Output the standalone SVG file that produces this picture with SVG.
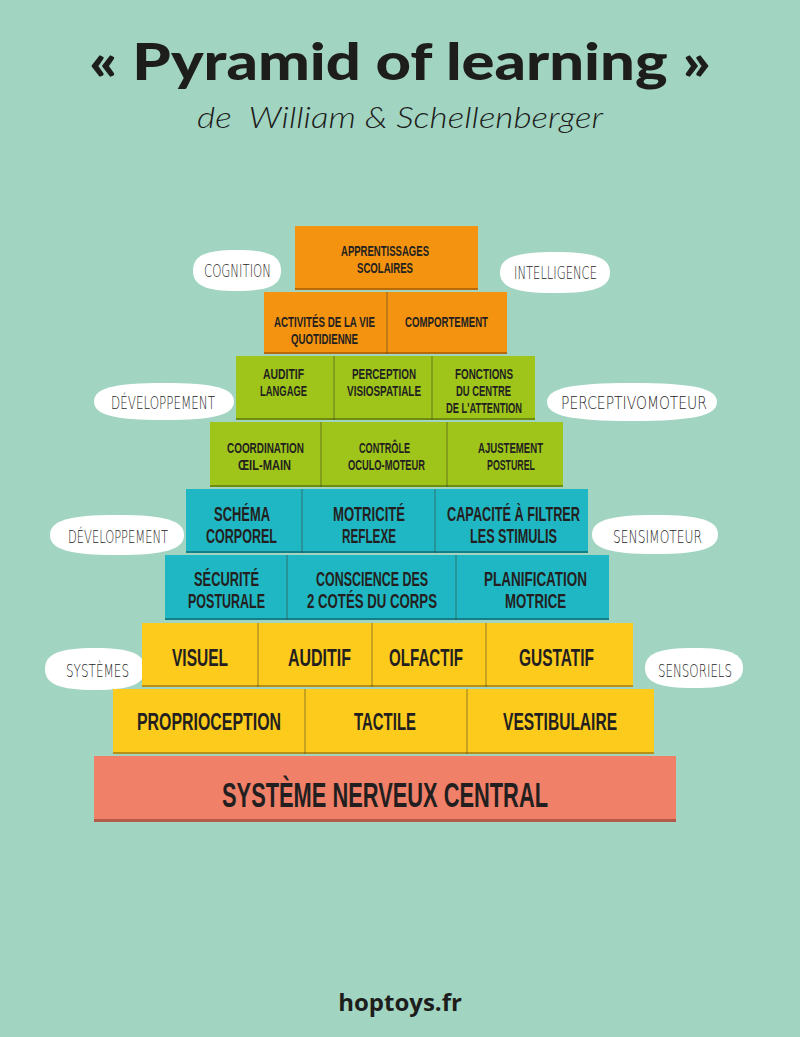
<svg xmlns="http://www.w3.org/2000/svg" width="800" height="1037" viewBox="0 0 800 1037">
<style>
.bg{fill:#a2d4c2}
.or{fill:#f39310}
.gr{fill:#9fc41a}
.te{fill:#1fb7c3}
.ye{fill:#fdcb1b}
.sa{fill:#f08068}
.sh-or{fill:#b86a08}
.sh-gr{fill:#6f8c10}
.sh-te{fill:#157f88}
.sh-ye{fill:#b89013}
.sh-sa{fill:#b45a48}
.dv{stroke:#3a3a2a;stroke-width:1;stroke-opacity:0.55}
.cloud{fill:#ffffff}
.b{font-family:"Liberation Sans",Arial,sans-serif;font-weight:bold;fill:#231f20;text-anchor:middle}
.c{font-family:"DejaVu Sans","Liberation Sans",sans-serif;font-weight:200;fill:#1f1f1f;font-size:18px}
.s1{font-size:14px}
.s2{font-size:19.5px}
.s3{font-size:23.5px}
.s4{font-size:36px}
</style>
<rect class="bg" x="0" y="0" width="800" height="1037"/>
<g id="title">
<text x="400" y="80" textLength="622" lengthAdjust="spacingAndGlyphs" style="font-family:Lato,'Open Sans',sans-serif;font-weight:900;font-size:52px;fill:#1d1d1b" text-anchor="middle">« Pyramid of learning »</text>
<text x="400" y="128" textLength="406" lengthAdjust="spacingAndGlyphs" style="font-family:Lato,'Open Sans',sans-serif;font-style:italic;font-weight:300;font-size:30px;fill:#1d1d1b;white-space:pre" text-anchor="middle">de  William &amp; Schellenberger</text>
</g>
<g id="connectors"></g>
<g id="cloud-cognition">
<path class="cloud" d="M193,270.5 C193,255.7 205.3,250 237,250 C268.7,250 281,255.7 281,270.5 C281,285.3 268.7,291 237,291 C205.3,291 193,285.3 193,270.5Z"/>
<text class="c" transform="translate(204,277) scale(0.6,1)" textLength="111.7" lengthAdjust="spacingAndGlyphs">COGNITION</text>
</g>
<g id="cloud-intelligence">
<path class="cloud" d="M500,272.5 C500,257.7 515.4,252 555,252 C594.6,252 610,257.7 610,272.5 C610,287.3 594.6,293 555,293 C515.4,293 500,287.3 500,272.5Z"/>
<text class="c" transform="translate(514,279) scale(0.6,1)" textLength="138.3" lengthAdjust="spacingAndGlyphs">INTELLIGENCE</text>
</g>
<g id="cloud-developpement1">
<path class="cloud" d="M94,401.5 C94,388.2 113.6,383 164,383 C214.4,383 234,388.2 234,401.5 C234,414.8 214.4,420 164,420 C113.6,420 94,414.8 94,401.5Z"/>
<text class="c" transform="translate(111,409) scale(0.6,1)" textLength="173.3" lengthAdjust="spacingAndGlyphs">DÉVELOPPEMENT</text>
</g>
<g id="cloud-perceptivomoteur">
<path class="cloud" d="M547,402 C547,388.3 570.8,383 632,383 C693.2,383 717,388.3 717,402 C717,415.7 693.2,421 632,421 C570.8,421 547,415.7 547,402Z"/>
<text class="c" transform="translate(561,409) scale(0.6,1)" textLength="243.3" lengthAdjust="spacingAndGlyphs">PERCEPTIVOMOTEUR</text>
</g>
<g id="cloud-developpement2">
<path class="cloud" d="M50,535 C50,520.6 68.8,515 117,515 C165.2,515 184,520.6 184,535 C184,549.4 165.2,555 117,555 C68.8,555 50,549.4 50,535Z"/>
<text class="c" transform="translate(68,543) scale(0.6,1)" textLength="166.7" lengthAdjust="spacingAndGlyphs">DÉVELOPPEMENT</text>
</g>
<g id="cloud-sensimoteur">
<path class="cloud" d="M592,534.5 C592,520.5 609.6,515 655,515 C700.4,515 718,520.5 718,534.5 C718,548.5 700.4,554 655,554 C609.6,554 592,548.5 592,534.5Z"/>
<text class="c" transform="translate(613,543) scale(0.6,1)" textLength="148.3" lengthAdjust="spacingAndGlyphs">SENSIMOTEUR</text>
</g>
<g id="cloud-systemes">
<path class="cloud" d="M45,669 C45,653.9 59,648 95,648 C131,648 145,653.9 145,669 C145,684.1 131,690 95,690 C59,690 45,684.1 45,669Z"/>
<text class="c" transform="translate(66,677) scale(0.6,1)" textLength="105" lengthAdjust="spacingAndGlyphs">SYSTÈMES</text>
</g>
<g id="cloud-sensoriels">
<path class="cloud" d="M645,668 C645,653.6 658.7,648 694,648 C729.3,648 743,653.6 743,668 C743,682.4 729.3,688 694,688 C658.7,688 645,682.4 645,668Z"/>
<text class="c" transform="translate(658,677) scale(0.6,1)" textLength="123.3" lengthAdjust="spacingAndGlyphs">SENSORIELS</text>
</g>
<g id="row1">
<rect class="or" x="295" y="226" width="183" height="64"/>
<rect class="sh-or" x="295" y="288" width="183" height="2"/>
<text class="b s1" transform="translate(385,256) scale(0.6,1)" textLength="146.7" lengthAdjust="spacingAndGlyphs">APPRENTISSAGES</text>
<text class="b s1" transform="translate(385,273) scale(0.6,1)" textLength="93.3" lengthAdjust="spacingAndGlyphs">SCOLAIRES</text>
</g>
<g id="row2">
<rect class="or" x="264" y="292" width="243" height="62"/>
<rect class="sh-or" x="264" y="352" width="243" height="2"/>
<line class="dv" x1="387" y1="292" x2="387" y2="354"/>
<text class="b s1" transform="translate(324.5,327) scale(0.6,1)" textLength="168.3" lengthAdjust="spacingAndGlyphs">ACTIVITÉS DE LA VIE</text>
<text class="b s1" transform="translate(324.5,344) scale(0.6,1)" textLength="111.7" lengthAdjust="spacingAndGlyphs">QUOTIDIENNE</text>
<text class="b s1" transform="translate(446.5,327) scale(0.6,1)" textLength="138.3" lengthAdjust="spacingAndGlyphs">COMPORTEMENT</text>
</g>
<g id="row3">
<rect class="gr" x="236" y="356" width="299" height="64"/>
<rect class="sh-gr" x="236" y="418" width="299" height="2"/>
<line class="dv" x1="334" y1="356" x2="334" y2="420"/>
<line class="dv" x1="432" y1="356" x2="432" y2="420"/>
<text class="b s1" transform="translate(283.5,379) scale(0.6,1)" textLength="68.3" lengthAdjust="spacingAndGlyphs">AUDITIF</text>
<text class="b s1" transform="translate(283.5,396) scale(0.6,1)" textLength="78.3" lengthAdjust="spacingAndGlyphs">LANGAGE</text>
<text class="b s1" transform="translate(384,379) scale(0.6,1)" textLength="106.7" lengthAdjust="spacingAndGlyphs">PERCEPTION</text>
<text class="b s1" transform="translate(384,396) scale(0.6,1)" textLength="123.3" lengthAdjust="spacingAndGlyphs">VISIOSPATIALE</text>
<text class="b s1" transform="translate(484,379) scale(0.6,1)" textLength="96.7" lengthAdjust="spacingAndGlyphs">FONCTIONS</text>
<text class="b s1" transform="translate(483.5,396) scale(0.6,1)" textLength="91.7" lengthAdjust="spacingAndGlyphs">DU CENTRE</text>
<text class="b s1" transform="translate(484,413) scale(0.6,1)" textLength="126.7" lengthAdjust="spacingAndGlyphs">DE L'ATTENTION</text>
</g>
<g id="row4">
<rect class="gr" x="210" y="422" width="353" height="65"/>
<rect class="sh-gr" x="210" y="485" width="353" height="2"/>
<line class="dv" x1="321" y1="422" x2="321" y2="487"/>
<line class="dv" x1="447" y1="422" x2="447" y2="487"/>
<text class="b s1" transform="translate(265.5,453) scale(0.6,1)" textLength="128.3" lengthAdjust="spacingAndGlyphs">COORDINATION</text>
<text class="b s1" transform="translate(264.5,470) scale(0.6,1)" textLength="88.3" lengthAdjust="spacingAndGlyphs">ŒIL-MAIN</text>
<text class="b s1" transform="translate(384.5,453) scale(0.6,1)" textLength="85" lengthAdjust="spacingAndGlyphs">CONTRÔLE</text>
<text class="b s1" transform="translate(386.5,470) scale(0.6,1)" textLength="128.3" lengthAdjust="spacingAndGlyphs">OCULO-MOTEUR</text>
<text class="b s1" transform="translate(510.5,453) scale(0.6,1)" textLength="108.3" lengthAdjust="spacingAndGlyphs">AJUSTEMENT</text>
<text class="b s1" transform="translate(511,470) scale(0.6,1)" textLength="80" lengthAdjust="spacingAndGlyphs">POSTUREL</text>
</g>
<g id="row5">
<rect class="te" x="186" y="489" width="402" height="64"/>
<rect class="sh-te" x="186" y="551" width="402" height="2"/>
<line class="dv" x1="302" y1="489" x2="302" y2="553"/>
<line class="dv" x1="435" y1="489" x2="435" y2="553"/>
<text class="b s2" transform="translate(242,521) scale(0.6,1)" textLength="93.3" lengthAdjust="spacingAndGlyphs">SCHÉMA</text>
<text class="b s2" transform="translate(241.5,543) scale(0.6,1)" textLength="118.3" lengthAdjust="spacingAndGlyphs">CORPOREL</text>
<text class="b s2" transform="translate(369,521) scale(0.6,1)" textLength="120" lengthAdjust="spacingAndGlyphs">MOTRICITÉ</text>
<text class="b s2" transform="translate(369,543) scale(0.6,1)" textLength="90" lengthAdjust="spacingAndGlyphs">REFLEXE</text>
<text class="b s2" transform="translate(513.5,521) scale(0.6,1)" textLength="221.7" lengthAdjust="spacingAndGlyphs">CAPACITÉ À FILTRER</text>
<text class="b s2" transform="translate(513.5,543) scale(0.6,1)" textLength="145" lengthAdjust="spacingAndGlyphs">LES STIMULIS</text>
</g>
<g id="row6">
<rect class="te" x="165" y="555" width="444" height="65"/>
<rect class="sh-te" x="165" y="618" width="444" height="2"/>
<line class="dv" x1="287" y1="555" x2="287" y2="620"/>
<line class="dv" x1="456" y1="555" x2="456" y2="620"/>
<text class="b s2" transform="translate(226.5,586) scale(0.6,1)" textLength="108.3" lengthAdjust="spacingAndGlyphs">SÉCURITÉ</text>
<text class="b s2" transform="translate(226.5,608) scale(0.6,1)" textLength="128.3" lengthAdjust="spacingAndGlyphs">POSTURALE</text>
<text class="b s2" transform="translate(372,586) scale(0.6,1)" textLength="186.7" lengthAdjust="spacingAndGlyphs">CONSCIENCE DES</text>
<text class="b s2" transform="translate(372,608) scale(0.6,1)" textLength="216.7" lengthAdjust="spacingAndGlyphs">2 COTÉS DU CORPS</text>
<text class="b s2" transform="translate(535.5,586) scale(0.6,1)" textLength="171.7" lengthAdjust="spacingAndGlyphs">PLANIFICATION</text>
<text class="b s2" transform="translate(535.5,608) scale(0.6,1)" textLength="101.7" lengthAdjust="spacingAndGlyphs">MOTRICE</text>
</g>
<g id="row7">
<rect class="ye" x="142" y="623" width="491" height="64"/>
<rect class="sh-ye" x="142" y="685" width="491" height="2"/>
<line class="dv" x1="258" y1="623" x2="258" y2="687"/>
<line class="dv" x1="372" y1="623" x2="372" y2="687"/>
<line class="dv" x1="486" y1="623" x2="486" y2="687"/>
<text class="b s3" transform="translate(200,666) scale(0.6,1)" textLength="93.3" lengthAdjust="spacingAndGlyphs">VISUEL</text>
<text class="b s3" transform="translate(319.5,666) scale(0.6,1)" textLength="105" lengthAdjust="spacingAndGlyphs">AUDITIF</text>
<text class="b s3" transform="translate(426,666) scale(0.6,1)" textLength="123.3" lengthAdjust="spacingAndGlyphs">OLFACTIF</text>
<text class="b s3" transform="translate(556.5,666) scale(0.6,1)" textLength="125" lengthAdjust="spacingAndGlyphs">GUSTATIF</text>
</g>
<g id="row8">
<rect class="ye" x="113" y="689" width="541" height="65"/>
<rect class="sh-ye" x="113" y="752" width="541" height="2"/>
<line class="dv" x1="305" y1="689" x2="305" y2="754"/>
<line class="dv" x1="467" y1="689" x2="467" y2="754"/>
<text class="b s3" transform="translate(209,730) scale(0.6,1)" textLength="240" lengthAdjust="spacingAndGlyphs">PROPRIOCEPTION</text>
<text class="b s3" transform="translate(385,730) scale(0.6,1)" textLength="103.3" lengthAdjust="spacingAndGlyphs">TACTILE</text>
<text class="b s3" transform="translate(560,730) scale(0.6,1)" textLength="190" lengthAdjust="spacingAndGlyphs">VESTIBULAIRE</text>
</g>
<g id="row9">
<rect class="sa" x="94" y="756" width="582" height="66"/>
<rect class="sh-sa" x="94" y="819" width="582" height="3"/>
<text class="b s4" transform="translate(385,807) scale(0.6,1)" textLength="543.3" lengthAdjust="spacingAndGlyphs">SYSTÈME NERVEUX CENTRAL</text>
</g>
<g id="footer">
<text x="400" y="1011" style="font-family:'Open Sans',Lato,sans-serif;font-weight:bold;font-size:24px;fill:#1d1d1b" text-anchor="middle">hoptoys.fr</text>
</g>
</svg>
